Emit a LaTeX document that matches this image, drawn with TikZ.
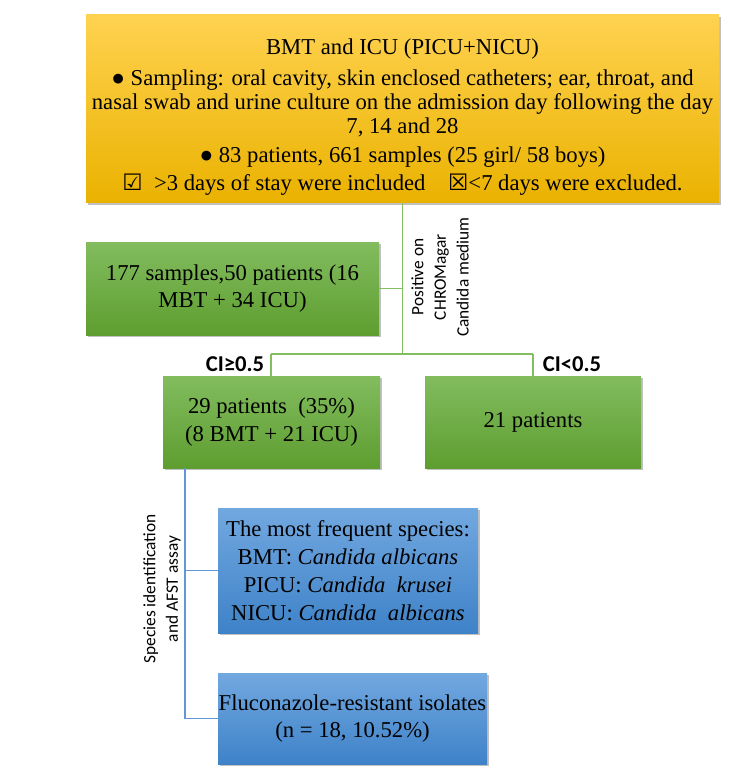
\documentclass[tikz,border=0pt]{standalone}
\usepackage{fontspec}
\setmainfont{Liberation Serif}
\newfontfamily\labelfont{Carlito}
\newfontfamily\symfont{DejaVu Sans}
\usepackage{xcolor}
\usepackage{tikz}
\usetikzlibrary{positioning,shadows}
\definecolor{goldtop}{RGB}{255,210,80}
\definecolor{goldbot}{RGB}{234,178,0}
\definecolor{greentop}{RGB}{130,188,94}
\definecolor{greenbot}{RGB}{94,158,48}
\definecolor{bluetop}{RGB}{114,168,224}
\definecolor{bluebot}{RGB}{62,130,200}
\definecolor{greenline}{RGB}{128,190,96}
\definecolor{blueline}{RGB}{96,152,214}
\tikzset{
  shadebox/.style={
    inner sep=0pt,
    outer sep=0pt,
    align=center,
    font=\fontsize{17}{20}\selectfont,
    drop shadow={shadow xshift=1.6pt, shadow yshift=-1.6pt, fill=black!45, opacity=0.55}
  },
  goldbox/.style={shadebox, top color=goldtop, bottom color=goldbot},
  greenbox/.style={shadebox, top color=greentop, bottom color=greenbot},
  bluebox/.style={shadebox, top color=bluetop, bottom color=bluebot},
  gline/.style={draw=greenline, line width=0.9pt},
  bline/.style={draw=blueline, line width=0.9pt},
  sidelabel/.style={font=\labelfont\fontsize{13}{17}\selectfont, align=center, rotate=90, inner sep=0pt},
  cilabel/.style={font=\labelfont\bfseries\fontsize{17}{19}\selectfont, inner sep=0pt}
}

\begin{document}
\begin{tikzpicture}[x=0.75pt, y=-0.75pt]
  \useasboundingbox (0,0) rectangle (736,777);

  \node[goldbox, minimum width=474.75pt, minimum height=141pt,
        font=\fontsize{17}{18}\selectfont] (study) at (402.5,109)
    {\rule{0pt}{24pt}BMT and ICU (PICU+NICU)\\[5pt]
     ● Sampling: oral cavity, skin enclosed catheters; ear, throat, and\\
     nasal swab and urine culture on the admission day following the day\\
     7, 14 and 28\\[4pt]
     ● 83 patients, 661 samples (25 girl/ 58 boys)\\[3pt]
     {\symfont ☑}\ \ >3 days of stay were included\quad {\symfont ☒}<7 days were excluded.};

  \node[greenbox, minimum width=219.75pt, minimum height=69.75pt] (samples) at (232.5,288.5)
    {177 samples,50 patients (16\\MBT + 34 ICU)};

  \node[greenbox, minimum width=162.75pt, minimum height=69pt,
        font=\fontsize{17}{21}\selectfont] (ciHigh) at (271.5,422)
    {29 patients\ \ (35\%)\\(8 BMT + 21 ICU)};
  \node[greenbox, minimum width=162pt, minimum height=69pt] (ciLow) at (533,422)
    {21 patients};

  \node[bluebox, minimum width=195pt, minimum height=93.75pt,
        font=\fontsize{17}{21}\selectfont] (species) at (348,570.5)
    {The most frequent species:\\
     BMT: \textit{Candida albicans}\\
     PICU: \textit{Candida\ \ krusei}\\
     NICU: \textit{Candida\ \ albicans}};

  \node[bluebox, minimum width=201.75pt, minimum height=68.25pt] (fluco) at (352.5,718.5)
    {Fluconazole-resistant isolates\\(n = 18, 10.52\%)};

  % junctions
  \coordinate (split) at (402.5,354);
  \coordinate (hl) at (271,354);
  \coordinate (hr) at (533,354);
  \coordinate (bt) at (185,468);

  \draw[gline] (study.south) -- (split);
  \draw[gline] (samples.east) -- (samples.east -| split);
  \draw[gline] (hl) -- (hr);
  \draw[gline] (hl) -- (hl |- ciHigh.north);
  \draw[gline] (hr) -- (hr |- ciLow.north);

  \draw[bline] (bt) -- (bt |- fluco.west) -- (fluco.west);
  \draw[bline] (bt |- species.west) -- (species.west);

  \node[sidelabel] (posLabel) at (440,277) {Positive on\\CHROMagar\\Candida medium};
  \node[sidelabel] (afstLabel) at (162,589) {Species identification\\and AFST assay};
  \node[cilabel] (ciHighLabel) at (235,364) {CI≥0.5};
  \node[cilabel] (ciLowLabel) at (572,364) {CI<0.5};
\end{tikzpicture}
\end{document}
